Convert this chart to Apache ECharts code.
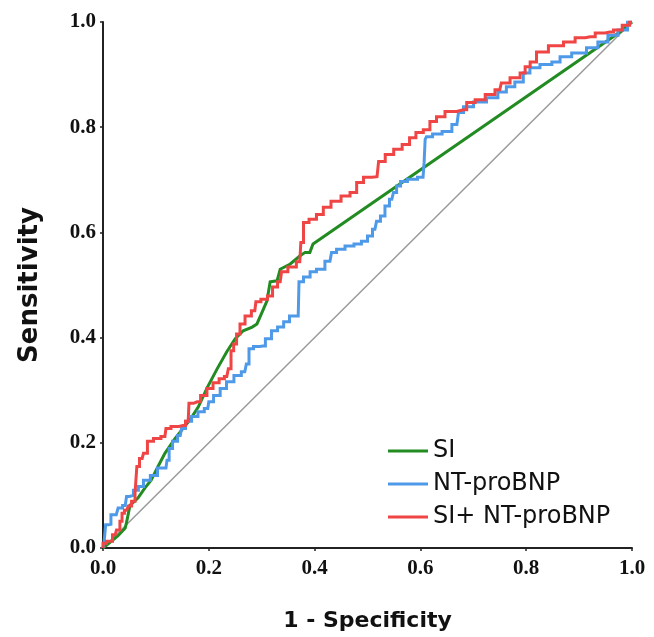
<!DOCTYPE html>
<html>
<head>
<meta charset="utf-8">
<script src="https://cdn.jsdelivr.net/npm/echarts@6/dist/echarts.min.js"></script>
<style>
html,body{margin:0;padding:0;background:#fff;}
#chart{width:654px;height:637px;}
</style>
</head>
<body>
<div id="chart"></div>
<script>
const seriesNames = ['SI', 'NT-proBNP', 'SI+ NT-proBNP'];
const tickValues = [0, 0.2, 0.4, 0.6, 0.8, 1.0];
const diagonal = [[0, 0], [1, 1]];

const siPoints = [[0,0],[0.028,0.023],[0.042,0.038],[0.045,0.051],[0.051,0.081],[0.066,0.095],[0.079,0.114],[0.091,0.129],[0.104,0.155],[0.117,0.18],[0.136,0.208],[0.166,0.246],[0.18,0.268],[0.197,0.305],[0.216,0.341],[0.234,0.373],[0.25,0.398],[0.265,0.413],[0.282,0.42],[0.291,0.426],[0.301,0.449],[0.31,0.47],[0.316,0.506],[0.329,0.508],[0.335,0.53],[0.354,0.54],[0.372,0.555],[0.382,0.562],[0.391,0.562],[0.397,0.578],[0.98,0.983],[1,1]];

const ntPoints = [[0,0],[0.004,0.01],[0.006,0.044],[0.015,0.045],[0.015,0.063],[0.025,0.063],[0.032,0.076],[0.042,0.081],[0.047,0.098],[0.053,0.1],[0.062,0.11],[0.072,0.117],[0.081,0.129],[0.098,0.138],[0.108,0.152],[0.119,0.152],[0.123,0.167],[0.127,0.189],[0.136,0.203],[0.146,0.214],[0.151,0.227],[0.161,0.241],[0.174,0.25],[0.185,0.259],[0.198,0.265],[0.202,0.278],[0.216,0.29],[0.227,0.303],[0.24,0.316],[0.255,0.328],[0.268,0.335],[0.274,0.35],[0.278,0.379],[0.291,0.383],[0.302,0.384],[0.312,0.398],[0.325,0.413],[0.335,0.42],[0.348,0.43],[0.357,0.441],[0.369,0.441],[0.372,0.506],[0.386,0.515],[0.397,0.525],[0.41,0.53],[0.429,0.545],[0.435,0.562],[0.448,0.568],[0.467,0.574],[0.482,0.578],[0.495,0.583],[0.505,0.593],[0.514,0.606],[0.52,0.621],[0.529,0.631],[0.537,0.65],[0.546,0.663],[0.552,0.676],[0.558,0.688],[0.567,0.697],[0.584,0.701],[0.605,0.705],[0.609,0.733],[0.609,0.777],[0.614,0.782],[0.632,0.787],[0.65,0.792],[0.669,0.805],[0.675,0.828],[0.688,0.839],[0.713,0.848],[0.737,0.856],[0.756,0.867],[0.769,0.877],[0.788,0.886],[0.801,0.903],[0.813,0.913],[0.839,0.919],[0.858,0.924],[0.87,0.934],[0.902,0.941],[0.926,0.951],[0.945,0.962],[0.964,0.975],[0.983,0.985],[1,1]];

const comboPoints = [[0,0],[0,0.009],[0.013,0.013],[0.023,0.025],[0.028,0.034],[0.036,0.051],[0.036,0.066],[0.045,0.072],[0.051,0.08],[0.057,0.089],[0.064,0.104],[0.064,0.155],[0.074,0.17],[0.079,0.18],[0.089,0.203],[0.102,0.208],[0.117,0.212],[0.121,0.227],[0.136,0.231],[0.151,0.233],[0.161,0.241],[0.164,0.275],[0.178,0.278],[0.191,0.29],[0.202,0.303],[0.214,0.314],[0.225,0.322],[0.234,0.326],[0.24,0.341],[0.244,0.375],[0.25,0.388],[0.255,0.407],[0.263,0.426],[0.274,0.441],[0.287,0.451],[0.291,0.468],[0.306,0.473],[0.316,0.479],[0.325,0.496],[0.335,0.506],[0.34,0.525],[0.359,0.534],[0.372,0.544],[0.376,0.581],[0.382,0.619],[0.397,0.625],[0.41,0.634],[0.423,0.648],[0.439,0.659],[0.461,0.669],[0.473,0.676],[0.486,0.695],[0.499,0.705],[0.518,0.706],[0.524,0.735],[0.543,0.748],[0.556,0.758],[0.575,0.767],[0.584,0.78],[0.599,0.79],[0.612,0.795],[0.624,0.811],[0.637,0.82],[0.656,0.83],[0.681,0.833],[0.694,0.847],[0.713,0.852],[0.732,0.862],[0.75,0.871],[0.756,0.884],[0.783,0.894],[0.794,0.903],[0.802,0.915],[0.813,0.924],[0.826,0.943],[0.858,0.955],[0.883,0.962],[0.902,0.97],[0.921,0.972],[0.94,0.979],[0.958,0.981],[0.972,0.985],[0.991,0.994],[1,1]];

const colors = ['#228b22', '#4f9ae8', '#ef4545'];

const chart = echarts.init(document.getElementById('chart'), null, {renderer: 'canvas'});

const axisCommon = {
  type: 'value', min: 0, max: 1, interval: 0.2,
  splitLine: {show: false},
  axisLine: {show: true, onZero: false, lineStyle: {color: '#222', width: 2}},
  axisTick: {show: true, length: 3, lineStyle: {color: '#222', width: 1.5}},
  axisLabel: {
    color: '#111', fontFamily: 'Liberation Serif', fontWeight: 'bold', fontSize: 21,
    formatter: v => v.toFixed(1)
  },
  nameLocation: 'middle',
  nameTextStyle: {color: '#111', fontFamily: 'DejaVu Sans', fontWeight: 'bold'}
};

const lineSeries = (name, data, color, step) => ({
  name, type: 'line', data, showSymbol: false, symbol: 'none', step,
  lineStyle: {color, width: 3, join: 'miter'}, itemStyle: {color},
  animation: false, z: 3
});

chart.setOption({
  animation: false,
  grid: {left: 103, right: 22, top: 22, bottom: 87, containLabel: false},
  xAxis: Object.assign({}, axisCommon, {
    name: '1 - Specificity', nameGap: 62,
    nameTextStyle: Object.assign({}, axisCommon.nameTextStyle, {fontSize: 22}),
    axisLabel: Object.assign({}, axisCommon.axisLabel, {margin: 10})
  }),
  yAxis: Object.assign({}, axisCommon, {
    name: 'Sensitivity', nameGap: 60,
    nameTextStyle: Object.assign({}, axisCommon.nameTextStyle, {fontSize: 26}),
    axisLabel: Object.assign({}, axisCommon.axisLabel, {margin: 7})
  }),
  legend: {
    data: seriesNames,
    orient: 'vertical', left: 383, top: 432,
    icon: 'rect', itemWidth: 40, itemHeight: 3, itemGap: 5,
    textStyle: {fontFamily: 'DejaVu Sans', fontSize: 24, color: '#111', lineHeight: 28}
  },
  series: [
    {type: 'line', data: diagonal, showSymbol: false, symbol: 'none',
     lineStyle: {color: '#9a9a9a', width: 1.5}, silent: true, z: 2},
    lineSeries(seriesNames[0], siPoints, colors[0], false),
    lineSeries(seriesNames[1], ntPoints, colors[1], 'middle'),
    lineSeries(seriesNames[2], comboPoints, colors[2], 'middle')
  ]
});
</script>
</body>
</html>
